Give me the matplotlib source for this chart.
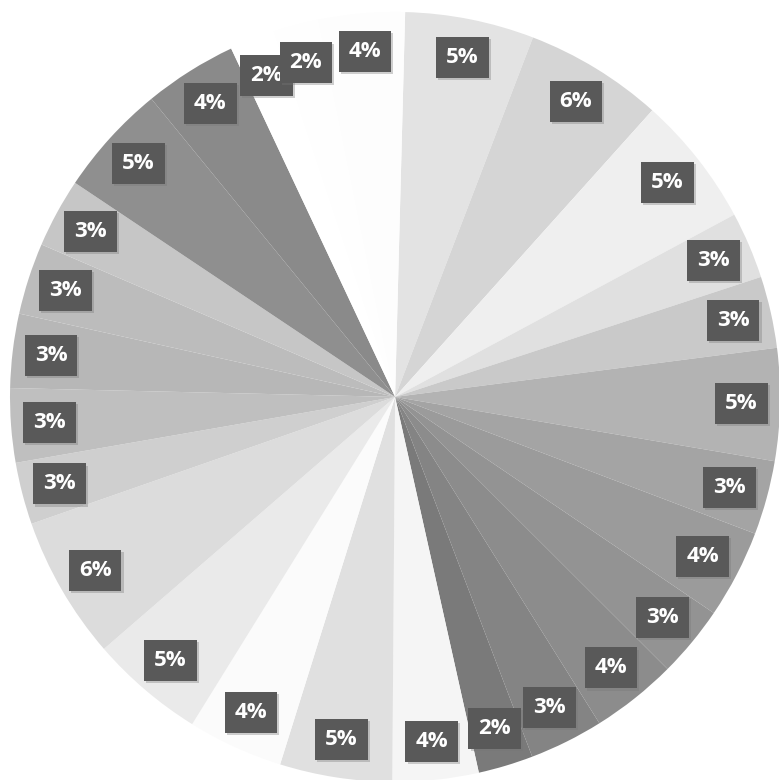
import matplotlib
matplotlib.use("Agg")
import matplotlib.pyplot as plt
import matplotlib.patheffects as pe
import numpy as np

# Slice values (percent), clockwise from 12 o'clock
values = [5.4, 5.8, 5.5, 2.8, 3.0, 4.7, 3.1, 3.7, 3.0, 3.6, 3.1, 2.3,
          3.6, 4.7, 4.0, 4.8, 6.0, 2.6, 3.1, 3.1, 3.0, 2.9, 4.7, 3.9,
          1.9, 1.9, 3.6]
labels = ["5%", "6%", "5%", "3%", "3%", "5%", "3%", "4%", "3%", "4%", "3%", "2%",
          "4%", "5%", "4%", "5%", "6%", "3%", "3%", "3%", "3%", "3%", "5%", "4%",
          "2%", "2%", "4%"]
colors = ["#e3e3e3", "#d5d5d5", "#efefef", "#e0e0e0", "#c9c9c9", "#b3b3b3",
          "#a4a4a4", "#9b9b9b", "#939393", "#8c8c8c", "#848484", "#7a7a7a",
          "#f5f5f5", "#e0e0e0", "#fbfbfb", "#eaeaea", "#dcdcdc", "#cfcfcf",
          "#bfbfbf", "#b7b7b7", "#bcbcbc", "#c6c6c6", "#8f8f8f", "#8a8a8a",
          "#ffffff", "#fefefe", "#fdfdfd"]

fig = plt.figure(figsize=(7.79, 7.80), dpi=100)
ax = fig.add_axes([0, 0, 1, 1])
ax.axis("off")

wedges, _ = ax.pie(values, colors=colors, startangle=88.5, counterclock=False,
                   radius=1.0, center=(0, 0),
                   wedgeprops=dict(linewidth=0, edgecolor="none"))

total = sum(values)
cum = 0.0
for v, lab in zip(values, labels):
    mid = 88.5 - (cum + v / 2) / total * 360.0
    cum += v
    r = 0.90
    x = r * np.cos(np.radians(mid))
    y = r * np.sin(np.radians(mid))
    t = ax.text(x, y, lab, ha="center", va="center", color="white",
                fontsize=16, fontweight="bold", family=["Open Sans", "DejaVu Sans"],
                bbox=dict(boxstyle="square,pad=0.45", facecolor="#595959",
                          edgecolor="none"))
    t.get_bbox_patch().set_path_effects([
        pe.SimplePatchShadow(offset=(1.5, -1.5), shadow_rgbFace="#777777", alpha=0.35),
        pe.Normal()])

ax.set_aspect("auto")
ax.set_xlim(-1.026, 0.997)
ax.set_ylim(-0.995, 1.031)

fig.savefig("out.png", dpi=100, facecolor="white")
